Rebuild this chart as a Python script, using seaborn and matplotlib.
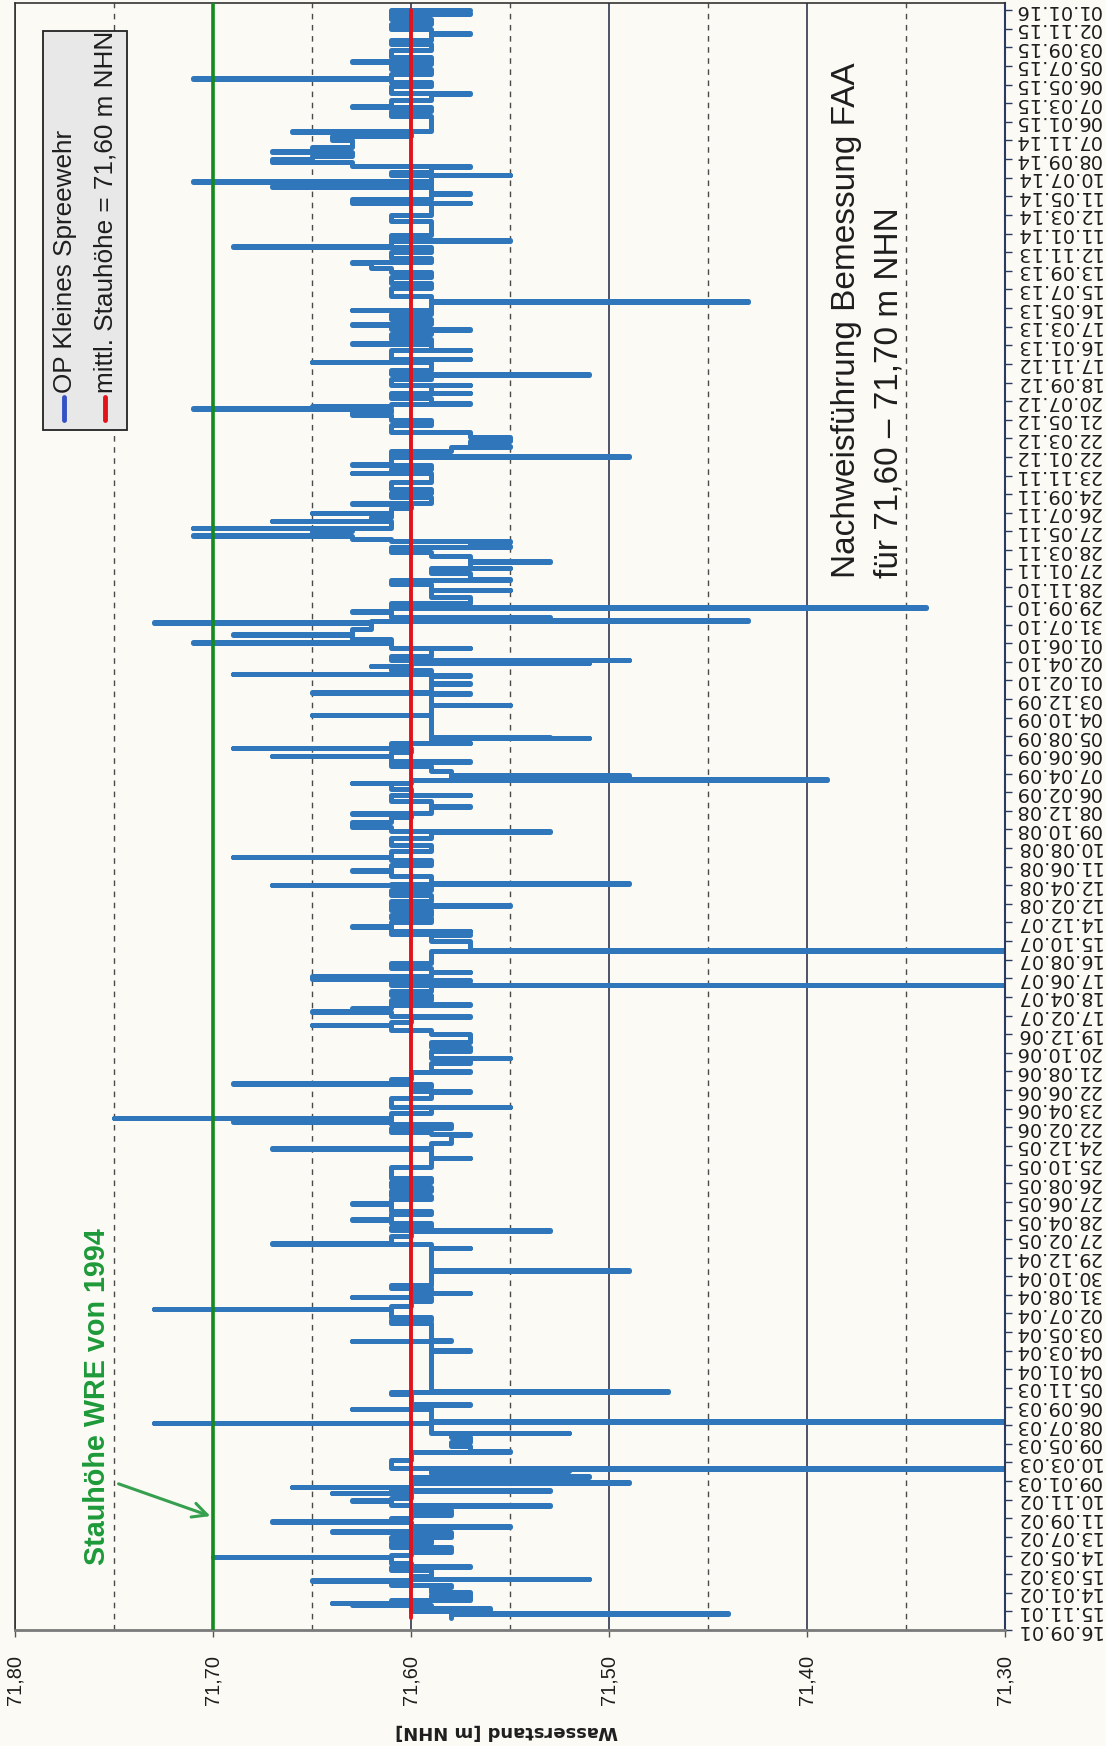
import matplotlib
matplotlib.use("Agg")
import matplotlib.pyplot as plt
import matplotlib.dates as mdates
from matplotlib.patches import Rectangle
from matplotlib.ticker import MultipleLocator
import numpy as np
import pandas as pd
import seaborn as sns

# Bezugsdatum: Tag 0 der Messreihe
START = pd.Timestamp("2001-09-16")

# OP Kleines Spreewehr, Wasserstand in m NHN als (Tag seit START, Wert);
# jeder Wert gilt bis zum naechsten Eintrag
werte_2001_2003 = [
    (38, 71.58), (52, 71.44), (54, 71.58), (62, 71.60), (66, 71.56), (70, 71.59),
    (80, 71.63), (86, 71.64), (88, 71.61), (97, 71.57), (107, 71.59), (113, 71.57),
    (123, 71.59), (137, 71.58), (145, 71.61), (159, 71.65), (161, 71.60), (163, 71.51),
    (165, 71.60), (174, 71.59), (193, 71.61), (204, 71.57), (206, 71.60), (217, 71.61),
    (234, 71.70), (236, 71.61), (242, 71.60), (252, 71.58), (268, 71.61), (279, 71.59),
    (290, 71.61), (301, 71.58), (317, 71.64), (319, 71.60), (333, 71.55), (335, 71.60),
    (349, 71.67), (351, 71.61), (360, 71.60), (370, 71.58), (387, 71.60), (400, 71.53),
    (402, 71.61), (417, 71.63), (419, 71.61), (424, 71.60), (440, 71.64), (442, 71.60),
    (449, 71.53), (451, 71.61), (460, 71.66), (462, 71.60), (475, 71.49), (477, 71.60),
    (494, 71.51), (496, 71.58), (505, 71.59), (512, 71.52), (514, 71.59), (520, 71.29),
    (522, 71.61), (548, 71.60), (574, 71.55), (576, 71.57), (593, 71.58), (607, 71.57),
    (623, 71.58), (634, 71.52), (636, 71.59), (666, 71.73), (668, 71.59), (670, 71.29),
    (672, 71.59), (711, 71.63), (713, 71.59), (725, 71.57), (727, 71.60), (762, 71.61),
    (768, 71.47), (770, 71.59),
]
werte_2003_2006 = [
    (900, 71.57), (903, 71.59), (930, 71.63), (932, 71.58), (935, 71.59), (988, 71.61),
    (998, 71.59), (1010, 71.61), (1033, 71.73), (1035, 71.61), (1044, 71.60), (1060, 71.59),
    (1072, 71.63), (1074, 71.60), (1085, 71.57), (1087, 71.59), (1101, 71.61), (1112, 71.59),
    (1158, 71.49), (1160, 71.59), (1230, 71.57), (1232, 71.59), (1244, 71.67), (1246, 71.61),
    (1270, 71.60), (1287, 71.53), (1289, 71.61), (1300, 71.59), (1310, 71.61), (1321, 71.63),
    (1323, 71.61), (1340, 71.59), (1350, 71.61), (1373, 71.63), (1375, 71.61), (1390, 71.59),
    (1400, 71.61), (1415, 71.59), (1428, 71.61), (1445, 71.59), (1455, 71.61), (1493, 71.59),
    (1520, 71.57), (1522, 71.59), (1550, 71.67), (1552, 71.59), (1570, 71.58), (1595, 71.57),
    (1597, 71.59), (1606, 71.61), (1618, 71.58), (1632, 71.61), (1636, 71.69), (1640, 71.61),
    (1649, 71.75), (1651, 71.61), (1665, 71.59), (1684, 71.55), (1686, 71.61),
]
werte_2006_2008 = [
    (1702, 71.61), (1715, 71.59), (1734, 71.57), (1736, 71.60), (1750, 71.59), (1761, 71.69),
    (1763, 71.61), (1777, 71.60), (1799, 71.57), (1801, 71.59), (1826, 71.57), (1842, 71.55),
    (1844, 71.59), (1865, 71.57), (1880, 71.59), (1896, 71.57), (1922, 71.59), (1935, 71.61),
    (1949, 71.65), (1951, 71.61), (1960, 71.60), (1976, 71.57), (1978, 71.61), (1992, 71.65),
    (1994, 71.63), (2003, 71.61), (2014, 71.57), (2016, 71.61), (2030, 71.59), (2046, 71.61),
    (2060, 71.59), (2078, 71.29), (2080, 71.61), (2092, 71.57), (2094, 71.61), (2098, 71.65),
    (2100, 71.61), (2105, 71.65), (2107, 71.59), (2120, 71.57), (2122, 71.59), (2134, 71.61),
    (2150, 71.59), (2188, 71.29), (2190, 71.57), (2220, 71.59), (2240, 71.57), (2242, 71.61),
    (2252, 71.57), (2254, 71.61), (2266, 71.63), (2268, 71.61), (2280, 71.59), (2295, 71.61),
    (2304, 71.59), (2320, 71.61), (2334, 71.55), (2336, 71.61), (2350, 71.59), (2370, 71.61),
    (2384, 71.59), (2400, 71.67), (2402, 71.61), (2405, 71.49), (2407, 71.59), (2430, 71.61),
    (2446, 71.63), (2448, 71.61), (2465, 71.59), (2480, 71.61), (2490, 71.69), (2492, 71.61),
    (2510, 71.59), (2530, 71.61), (2551, 71.59), (2572, 71.53), (2574, 71.61), (2588, 71.63),
]
werte_2008_2011 = [
    (2605, 71.61), (2621, 71.60), (2631, 71.63), (2633, 71.59), (2653, 71.57), (2655, 71.59),
    (2670, 71.61), (2690, 71.57), (2692, 71.60), (2710, 71.61), (2728, 71.63), (2730, 71.60),
    (2739, 71.39), (2741, 71.58), (2752, 71.49), (2754, 71.58), (2768, 71.59), (2785, 71.61),
    (2798, 71.57), (2800, 71.61), (2816, 71.67), (2818, 71.61), (2830, 71.60), (2841, 71.69),
    (2843, 71.61), (2857, 71.57), (2859, 71.59), (2873, 71.51), (2875, 71.53), (2877, 71.59),
    (2948, 71.65), (2950, 71.59), (2980, 71.55), (2982, 71.59), (3016, 71.57), (3018, 71.59),
    (3020, 71.65), (3022, 71.59), (3050, 71.57), (3052, 71.59), (3074, 71.57), (3076, 71.59),
    (3080, 71.69), (3082, 71.59), (3095, 71.61), (3106, 71.62), (3108, 71.60), (3115, 71.51),
    (3117, 71.60), (3125, 71.49), (3127, 71.61), (3140, 71.59), (3163, 71.57), (3165, 71.61),
    (3181, 71.71), (3183, 71.61), (3195, 71.63), (3206, 71.69), (3208, 71.63), (3225, 71.62),
    (3246, 71.73), (3248, 71.62), (3252, 71.43), (3254, 71.53), (3265, 71.61), (3281, 71.63),
    (3283, 71.61), (3295, 71.34), (3297, 71.61), (3310, 71.57), (3330, 71.59), (3351, 71.55),
    (3353, 71.59), (3370, 71.61), (3385, 71.55), (3387, 71.57), (3405, 71.59), (3421, 71.55),
    (3423, 71.57), (3442, 71.53), (3444, 71.57), (3460, 71.59),
]
werte_2011_2013 = [
    (3474, 71.61), (3491, 71.55), (3493, 71.57), (3505, 71.55), (3510, 71.61), (3517, 71.63),
    (3526, 71.71), (3528, 71.65), (3540, 71.63), (3550, 71.71), (3552, 71.61), (3573, 71.67),
    (3575, 71.62), (3588, 71.61), (3598, 71.65), (3600, 71.61), (3615, 71.60), (3630, 71.63),
    (3632, 71.59), (3650, 71.61), (3665, 71.59), (3678, 71.61), (3700, 71.59), (3727, 71.63),
    (3729, 71.61), (3740, 71.59), (3754, 71.63), (3756, 71.61), (3780, 71.49), (3782, 71.61),
    (3800, 71.58), (3813, 71.55), (3815, 71.57), (3830, 71.55), (3845, 71.57), (3860, 71.61),
    (3883, 71.59), (3900, 71.61), (3915, 71.63), (3925, 71.61), (3936, 71.71), (3938, 71.65),
    (3945, 71.61), (3952, 71.57), (3954, 71.59), (3970, 71.61), (3985, 71.57), (3987, 71.59),
    (4011, 71.57), (4013, 71.61), (4030, 71.59), (4044, 71.51), (4046, 71.61), (4060, 71.59),
    (4085, 71.65), (4087, 71.61), (4095, 71.57), (4097, 71.61), (4124, 71.57), (4126, 71.59),
    (4145, 71.63), (4147, 71.59), (4160, 71.61), (4175, 71.59), (4189, 71.57), (4191, 71.61),
    (4205, 71.63), (4207, 71.59), (4225, 71.61), (4240, 71.59), (4253, 71.63), (4255, 71.59),
    (4280, 71.43), (4282, 71.59), (4300, 71.61), (4323, 71.59), (4340, 71.61),
]
werte_2013_2016 = [
    (4360, 71.59), (4375, 71.61), (4390, 71.62), (4406, 71.63), (4408, 71.59), (4420, 71.61),
    (4440, 71.59), (4457, 71.69), (4459, 71.61), (4476, 71.55), (4478, 71.61), (4495, 71.59),
    (4540, 71.61), (4560, 71.59), (4597, 71.57), (4599, 71.63), (4612, 71.59), (4629, 71.57),
    (4631, 71.59), (4650, 71.67), (4652, 71.59), (4667, 71.71), (4669, 71.59), (4688, 71.55),
    (4690, 71.61), (4700, 71.59), (4715, 71.57), (4717, 71.63), (4730, 71.67), (4740, 71.65),
    (4750, 71.63), (4763, 71.67), (4765, 71.65), (4780, 71.63), (4800, 71.64), (4815, 71.60),
    (4828, 71.66), (4830, 71.59), (4880, 71.61), (4895, 71.59), (4908, 71.63), (4910, 71.61),
    (4930, 71.59), (4951, 71.57), (4953, 71.61), (4975, 71.59), (4990, 71.61), (4998, 71.71),
    (5000, 71.61), (5015, 71.59), (5030, 71.61), (5045, 71.59), (5053, 71.63), (5055, 71.59),
    (5070, 71.61), (5091, 71.59), (5110, 71.61), (5125, 71.59), (5144, 71.57), (5146, 71.59),
    (5160, 71.61), (5175, 71.59), (5190, 71.61), (5209, 71.57), (5211, 71.61), (5220, 71.57),
]

mittl_stauhoehe = 71.60
stauhoehe_wre_1994 = 71.70

wert_ticks = [71.80, 71.70, 71.60, 71.50, 71.40, 71.30]
wert_labels = ["71,80", "71,70", "71,60", "71,50", "71,40", "71,30"]
datum_ticks = pd.date_range(START, "2016-01-01", freq="60D")
datum_labels = [d.strftime("%d.%m.%y") for d in datum_ticks]

# Farben
PAPER = "#fbfaf5"
BLUE = "#2f76bb"
LEG_BLUE = "#3552c4"
RED = "#e3121b"
GREEN = "#158a1f"
TEXT_GREEN = "#1e9a3a"
INK = "#1e1e1e"

sns.set_style("ticks")
plt.rcParams["font.family"] = ["Liberation Sans", "DejaVu Sans"]

messreihe = pd.DataFrame(
    werte_2001_2003 + werte_2003_2006 + werte_2006_2008
    + werte_2008_2011 + werte_2011_2013 + werte_2013_2016,
    columns=["tag", "pegel"],
)
messreihe["datum"] = START + pd.to_timedelta(messreihe["tag"], unit="D")

mittel = pd.DataFrame({
    "pegel": [mittl_stauhoehe, mittl_stauhoehe],
    "datum": [messreihe["datum"].iloc[0], messreihe["datum"].iloc[-1]],
})

fig = plt.figure(figsize=(11.06, 17.46), dpi=100, facecolor=PAPER)
ax = fig.add_axes([15 / 1106, 116 / 1746, 990 / 1106, 1627 / 1746])
ax.set_facecolor(PAPER)

# Ganglinie als Treppenlinie entlang der Zeitachse (vertikal)
sns.lineplot(data=messreihe, x="pegel", y="datum", orient="y", sort=False,
             estimator=None, color=BLUE, linewidth=3.6, drawstyle="steps-pre",
             ax=ax, zorder=2, legend=False)
sns.lineplot(data=mittel, x="pegel", y="datum", orient="y", sort=False,
             estimator=None, color=RED, linewidth=2.8, ax=ax, zorder=3,
             legend=False)
ax.axvline(stauhoehe_wre_1994, color=GREEN, linewidth=2.6, zorder=4)

# Achsen
ax.set_xlim(71.80, 71.30)
ax.set_ylim(START, START + pd.Timedelta(days=5243))
ax.set_xticks(wert_ticks)
ax.set_xticklabels(wert_labels, rotation=90, fontsize=14.4, color=INK)
ax.xaxis.set_minor_locator(MultipleLocator(0.05))
ax.set_axisbelow(True)
ax.grid(axis="x", which="major", color="#1e2440", linewidth=1.1, linestyle="-")
ax.grid(axis="x", which="minor", color="#4a4a4a", linewidth=1.0,
        linestyle=(0, (4, 4)))
ax.tick_params(axis="x", which="major", length=5, width=1, pad=13,
               color="#555555")
ax.tick_params(axis="x", which="minor", length=0)

ax.yaxis.tick_right()
ax.set_yticks(datum_ticks)
ax.set_yticklabels(datum_labels, rotation=180, fontsize=14,
                   fontfamily="DejaVu Sans", color=INK, va="center")
ax.tick_params(axis="y", length=5, width=1, pad=1.5, color="#2b3a60",
               direction="out")
ax.set_ylabel("")

ax.set_xlabel("Wasserstand [m NHN]", rotation=180, fontsize=13,
              fontweight="bold", fontfamily="DejaVu Sans", color=INK)
ax.xaxis.set_label_coords(0.497, -0.0621)
ax.xaxis.label.set_va("center")

for side in ("left", "top"):
    ax.spines[side].set_color("#333333")
    ax.spines[side].set_linewidth(1.2)
ax.spines["bottom"].set_color("#7a7a7a")
ax.spines["bottom"].set_linewidth(2)
ax.spines["right"].set_color("#2b3a60")
ax.spines["right"].set_linewidth(1.5)

# Legende (gedreht)
ax.add_patch(Rectangle((0.0283, 0.7376), 0.0848, 0.2452, transform=ax.transAxes,
                       facecolor="#e8e8e8", edgecolor="#222222", linewidth=1.3,
                       zorder=6))
ax.plot([0.0495, 0.0495], [0.7437, 0.7578], transform=ax.transAxes,
        color=LEG_BLUE, linewidth=3.5, solid_capstyle="round", zorder=7)
ax.plot([0.0909, 0.0909], [0.7437, 0.7578], transform=ax.transAxes,
        color=RED, linewidth=3.5, solid_capstyle="round", zorder=7)
ax.text(0.0505, 0.760, "OP Kleines Spreewehr", transform=ax.transAxes,
        rotation=90, rotation_mode="anchor", ha="left", va="center",
        fontsize=18.8, color=INK, zorder=7)
ax.text(0.0915, 0.760, "mittl. Stauhöhe = 71,60 m NHN", transform=ax.transAxes,
        rotation=90, rotation_mode="anchor", ha="left", va="center",
        fontsize=18.8, color=INK, zorder=7)

# Bemessungshinweis
ax.text(0.8394, 0.6466, "Nachweisführung Bemessung FAA", transform=ax.transAxes,
        rotation=90, rotation_mode="anchor", ha="left", va="center",
        fontsize=24, color=INK, zorder=7)
ax.text(0.8828, 0.6466, "für 71,60 – 71,70 m NHN", transform=ax.transAxes,
        rotation=90, rotation_mode="anchor", ha="left", va="center",
        fontsize=24, color=INK, zorder=7)

# Stauhöhe WRE 1994 mit Pfeil
ax.text(0.0828, 0.040, "Stauhöhe WRE von 1994", transform=ax.transAxes,
        rotation=90, rotation_mode="anchor", ha="left", va="center",
        fontsize=20.7, fontweight="bold", color=TEXT_GREEN, zorder=7)
tip = mdates.date2num(START + pd.Timedelta(days=364))
tail = mdates.date2num(START + pd.Timedelta(days=474))
ax.annotate("", xy=(stauhoehe_wre_1994, tip), xytext=(71.749, tail),
            arrowprops=dict(arrowstyle="->", color="#36a04e", lw=2.2,
                            mutation_scale=26), zorder=7)

fig.savefig("out.png", dpi=100, facecolor=PAPER)
